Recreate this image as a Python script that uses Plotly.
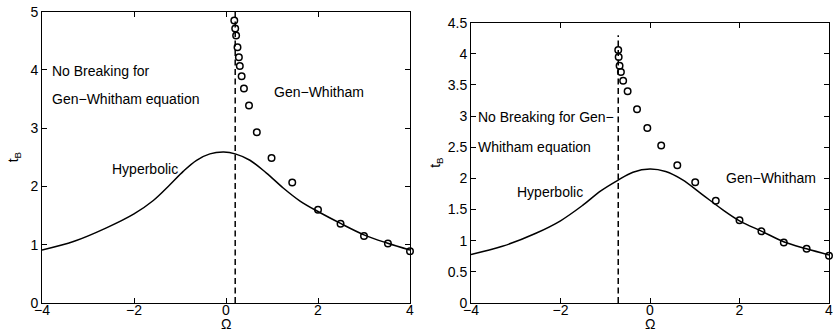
import plotly.graph_objects as go

# ---- left panel: breaking time vs. Omega ----
omega_hyp_l = [-4.0, -3.3, -2.6, -2.0, -1.58, -1.22, -0.93, -0.64, -0.35, -0.05,
               0.2, 0.52, 0.88, 1.25, 1.61, 2.0, 2.48, 3.0, 3.5, 4.0]
tb_hyp_l = [0.91, 1.06, 1.29, 1.53, 1.76, 2.03, 2.26, 2.45, 2.56, 2.59,
            2.56, 2.45, 2.23, 1.97, 1.75, 1.57, 1.37, 1.17, 1.03, 0.91]
omega_gw_l = [0.18, 0.20, 0.22, 0.25, 0.28, 0.30, 0.34, 0.39, 0.50, 0.67,
              0.99, 1.44, 2.0, 2.49, 3.0, 3.52, 4.0]
tb_gw_l = [4.85, 4.71, 4.59, 4.39, 4.22, 4.07, 3.89, 3.68, 3.39, 2.93,
           2.49, 2.07, 1.60, 1.36, 1.15, 1.02, 0.89]
omega_crit_l = 0.20
tb_crit_top_l = 5.0

# ---- right panel ----
omega_hyp_r = [-4.0, -3.3, -2.55, -2.0, -1.5, -1.1, -0.72, -0.38, 0.0, 0.35,
               0.72, 1.17, 1.62, 2.0, 2.5, 3.0, 3.5, 4.0]
tb_hyp_r = [0.78, 0.91, 1.12, 1.32, 1.57, 1.80, 1.97, 2.10, 2.15, 2.11,
            1.98, 1.74, 1.50, 1.32, 1.15, 0.98, 0.87, 0.77]
omega_gw_r = [-0.71, -0.70, -0.68, -0.65, -0.60, -0.50, -0.29, -0.06, 0.25,
              0.61, 1.01, 1.47, 2.0, 2.49, 2.99, 3.50, 4.0]
tb_gw_r = [4.06, 3.95, 3.81, 3.71, 3.57, 3.40, 3.11, 2.81, 2.53,
           2.21, 1.94, 1.64, 1.33, 1.15, 0.97, 0.87, 0.76]
omega_crit_r = -0.71
tb_crit_top_r = 4.3

x_ticks = [-4, -2, 0, 2, 4]
y_ticks_l = [0, 1, 2, 3, 4, 5]
y_ticks_r = [0, 0.5, 1, 1.5, 2, 2.5, 3, 3.5, 4, 4.5]

FONT = "Liberation Sans, Arial, Helvetica, sans-serif"
FS = 14
W, H = 833, 333

# plot boxes in pixels: (left, right, top, bottom)
box_l = (42, 410, 11.7, 303)
box_r = (471, 829, 22.7, 303)


def dom_x(b):
    return [b[0] / W, b[1] / W]


def dom_y(b):
    return [(H - b[3]) / H, (H - b[2]) / H]


fig = go.Figure()

line_style = dict(color="black", width=1.5)
marker_style = dict(symbol="circle-open", size=6.5, color="black",
                    line=dict(color="black", width=1.5))
dash_style = dict(color="black", width=1.5, dash="6px,3.5px")

for xa, ya, oh, th, og, tg, oc, tc in [
    ("x", "y", omega_hyp_l, tb_hyp_l, omega_gw_l, tb_gw_l, omega_crit_l, tb_crit_top_l),
    ("x2", "y2", omega_hyp_r, tb_hyp_r, omega_gw_r, tb_gw_r, omega_crit_r, tb_crit_top_r),
]:
    fig.add_trace(go.Scatter(x=[oc, oc], y=[0, tc], mode="lines", line=dash_style,
                             xaxis=xa, yaxis=ya, showlegend=False, hoverinfo="skip"))
    fig.add_trace(go.Scatter(x=oh, y=th, mode="lines", line=line_style,
                             line_shape="spline", xaxis=xa, yaxis=ya, showlegend=False))
    fig.add_trace(go.Scatter(x=og, y=tg, mode="markers", marker=marker_style,
                             xaxis=xa, yaxis=ya, showlegend=False, cliponaxis=False))

axis_common = dict(showline=True, linecolor="black", linewidth=1, mirror="ticks",
                   ticks="inside", ticklen=5, tickwidth=1, tickcolor="black",
                   showgrid=False, zeroline=False, automargin=False,
                   ticklabeloverflow="allow",
                   tickfont=dict(family=FONT, size=FS, color="black"))

fig.update_layout(
    width=W, height=H,
    margin=dict(l=0, r=0, t=0, b=0),
    paper_bgcolor="white", plot_bgcolor="white",
    showlegend=False,
    xaxis=dict(domain=dom_x(box_l), range=[-4, 4], tickvals=x_ticks,
               anchor="y", ticklabelstandoff=-6, **axis_common),
    yaxis=dict(domain=dom_y(box_l), range=[0, 5], tickvals=y_ticks_l,
               anchor="x", **axis_common),
    xaxis2=dict(domain=dom_x(box_r), range=[-4, 4], tickvals=x_ticks,
                anchor="y2", ticklabelstandoff=-6, **axis_common),
    yaxis2=dict(domain=dom_y(box_r), range=[0, 4.5], tickvals=y_ticks_r,
                ticktext=[f"{v:g}" for v in y_ticks_r], anchor="x2", **axis_common),
)

txt = dict(family=FONT, size=FS, color="black")


def note(xref, yref, x, y, text, anchor="left"):
    fig.add_annotation(x=x, y=y, xref=xref, yref=yref, text=text, showarrow=False,
                       xanchor=anchor, yanchor="middle", font=txt)


# left panel labels
note("x", "y", -3.82, 3.99, "No Breaking for")
note("x", "y", -3.82, 3.50, "Gen\u2212Whitham equation")
note("x", "y", 1.0, 3.62, "Gen\u2212Whitham")
note("x", "y", -2.53, 2.30, "Hyperbolic")

# right panel labels
note("x2", "y2", -3.88, 2.99, "No Breaking for Gen\u2212")
note("x2", "y2", -3.88, 2.51, "Whitham equation")
note("x2", "y2", -3.02, 1.79, "Hyperbolic")
note("x2", "y2", 1.66, 2.00, "Gen\u2212Whitham")

# axis titles
for xc, yc in [(14, (box_l[2] + box_l[3]) / 2), (436, (box_r[2] + box_r[3]) / 2)]:
    fig.add_annotation(x=xc / W, y=(H - yc) / H, xref="paper", yref="paper",
                       text="t<sub>B</sub>", textangle=-90, showarrow=False,
                       xanchor="center", yanchor="middle", font=txt)
for b in (box_l, box_r):
    fig.add_annotation(x=(b[0] + b[1]) / 2 / W, y=(H - 324) / H, xref="paper",
                       yref="paper", text="\u03a9", showarrow=False,
                       xanchor="center", yanchor="middle", font=txt)

fig.write_html("out.html")
